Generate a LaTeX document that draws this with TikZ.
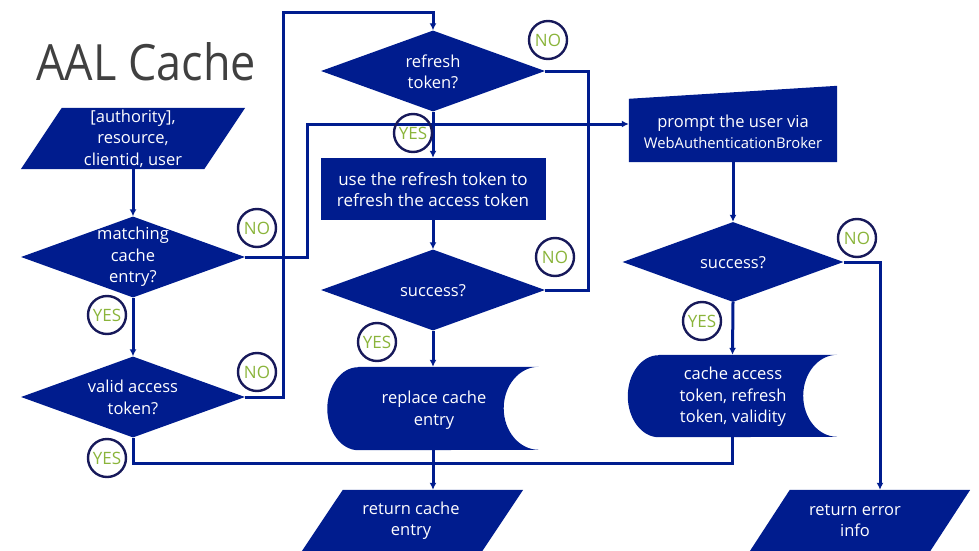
\documentclass[tikz,border=0pt]{standalone}
\usepackage{fontspec}
\setmainfont{Open Sans}
\usetikzlibrary{shapes.geometric,arrows.meta,calc,backgrounds}
\definecolor{navy}{HTML}{001C8E}
\definecolor{circ}{HTML}{17195A}
\definecolor{lime}{HTML}{8AB43A}
\definecolor{ttl}{HTML}{404040}
\begin{document}
\begin{tikzpicture}[x=1pt,y=-1pt,
  dec/.style={diamond, fill=navy, inner sep=0pt, minimum width=#1, minimum height=81pt},
  dec/.default=224pt,
  box/.style={rectangle, inner sep=0pt},
  wt/.style={text=white, align=center, inner sep=0pt, font=\fontsize{16.5}{21.5}\selectfont},
  lbl/.style={circle, draw=circ, line width=2.4pt, minimum size=38pt, inner sep=0pt, text=lime, font=\fontsize{17}{18}\selectfont},
  conn/.style={draw=navy, line width=3pt},
  arr/.style={conn, -{Latex[length=7pt,width=7pt]}},
]
\useasboundingbox (0,0) rectangle (979,551);

% title
\node[anchor=base west, text=ttl, inner sep=0pt, font=\fontsize{50}{56}\selectfont] (title) at (36,80) {\scalebox{0.9}[1]{AAL Cache}};

% shape nodes
\node[box, minimum width=183pt, minimum height=61pt] (inp) at (133,138.5) {};
\node[dec] (d1) at (133,257) {};
\node[dec] (d2) at (133,397) {};
\node[dec] (ref) at (433,71) {};
\node[box, minimum width=225pt, minimum height=62pt, fill=navy] (use) at (433,189) {};
\node[dec] (s1) at (433,290) {};
\node[box, minimum width=211pt, minimum height=83pt] (rc) at (433,408.5) {};
\node[box, minimum width=180pt, minimum height=61pt] (ret) at (412.5,520.5) {};
\node[box, minimum width=208pt, minimum height=76pt] (pr) at (733,124) {};
\node[dec=221pt, minimum height=80pt] (s2) at (733,262) {};
\node[box, minimum width=209pt, minimum height=82pt] (ca) at (732.5,396) {};
\node[box, minimum width=180pt, minimum height=61pt] (err) at (860,520.5) {};

\begin{scope}[on background layer]
  \fill[navy] ([xshift=20.5pt]inp.north west) -- ([xshift=20.5pt]inp.north east)
     -- ([xshift=-20.5pt]inp.south east) -- ([xshift=-20.5pt]inp.south west) -- cycle;
  \fill[navy] ([xshift=20.5pt]ret.north west) -- ([xshift=20.5pt]ret.north east)
     -- ([xshift=-20.5pt]ret.south east) -- ([xshift=-20.5pt]ret.south west) -- cycle;
  \fill[navy] ([xshift=20pt]err.north west) -- ([xshift=20pt]err.north east)
     -- ([xshift=-20pt]err.south east) -- ([xshift=-20pt]err.south west) -- cycle;
  \fill[navy] (pr.south west) -- (pr.south east) -- (pr.north east) -- ([yshift=-13pt]pr.north west) -- cycle;
  \fill[navy] ([xshift=31pt]rc.north west) -- (rc.north east)
     arc[start angle=90, end angle=270, x radius=35pt, y radius=41.5pt]
     -- ([xshift=31pt]rc.south west)
     arc[start angle=270, end angle=90, x radius=31pt, y radius=41.5pt] -- cycle;
  \fill[navy] ([xshift=31pt]ca.north west) -- (ca.north east)
     arc[start angle=90, end angle=270, x radius=34pt, y radius=41pt]
     -- ([xshift=31pt]ca.south west)
     arc[start angle=270, end angle=90, x radius=31pt, y radius=41pt] -- cycle;
\end{scope}

% texts
\node[wt] (tinp) at (133,138.5) {[authority],\\resource,\\clientid, user};
\node[wt] (td1) at (133,257) {matching\\cache\\entry?};
\node[wt] (td2) at (133,397.5) {valid access\\token?};
\node[wt] (tref) at (433,72) {refresh\\token?};
\node[wt, font=\fontsize{17}{21.5}\selectfont] (tuse) at (433,189.5) {use the refresh token to\\refresh the access token};
\node[wt] (ts1) at (433,291) {success?};
\node[wt] (trc) at (434,410) {replace cache\\entry};
\node[wt] (tret) at (411,520.5) {return cache\\entry};
\node[wt] (tpr) at (733,132) {prompt the user via\\{\fontsize{14.8}{16}\selectfont WebAuthenticationBroker}};
\node[wt] (ts2) at (733,263) {success?};
\node[wt] (tca) at (733,397) {cache access\\token, refresh\\token, validity};
\node[wt] (terr) at (855,520.5) {return error\\info};

% junctions
\coordinate (j1) at (307,124);
\coordinate (j2) at (283,13);
\coordinate (j3) at (588,124);
\coordinate (j4) at (433,463);

% connectors
\draw[arr] (inp.south) -- (d1.north);
\draw[arr] (d1.south) -- (d2.north);
\draw[arr] (d1.east) -| (j1) -- (pr.west);
\draw[arr] (d2.east) -| (j2) -| (ref.north);
\draw[arr] (ref.south) -- (use.north);
\draw[conn] (ref.east) -| (j3);
\draw[conn] (s1.east) -| (j3);
\draw[arr] (use.south) -- (s1.north);
\draw[arr] (s1.south) -- (rc.north);
\draw[conn] (rc.south) -- (j4);
\draw[conn] (d2.south) |- (j4);
\draw[conn] (ca.south) |- (j4);
\draw[arr] (j4) -- ([xshift=20.5pt]ret.north);
\draw[arr] (pr.south) -- (s2.north);
\draw[arr] (s2.south) -- (ca.north);
\draw[arr] (s2.east) -| ([xshift=20pt]err.north);

% yes / no labels
\node[lbl] (n1) at (548,40) {NO};
\node[lbl] (y1) at (413,133) {YES};
\node[lbl] (n2) at (257,228) {NO};
\node[lbl] (y2) at (107,315) {YES};
\node[lbl] (n3) at (257,372) {NO};
\node[lbl] (y3) at (107,458) {YES};
\node[lbl] (n4) at (555,257) {NO};
\node[lbl] (y4) at (377,342) {YES};
\node[lbl] (n5) at (857,238) {NO};
\node[lbl] (y5) at (702,321) {YES};
\end{tikzpicture}
\end{document}
